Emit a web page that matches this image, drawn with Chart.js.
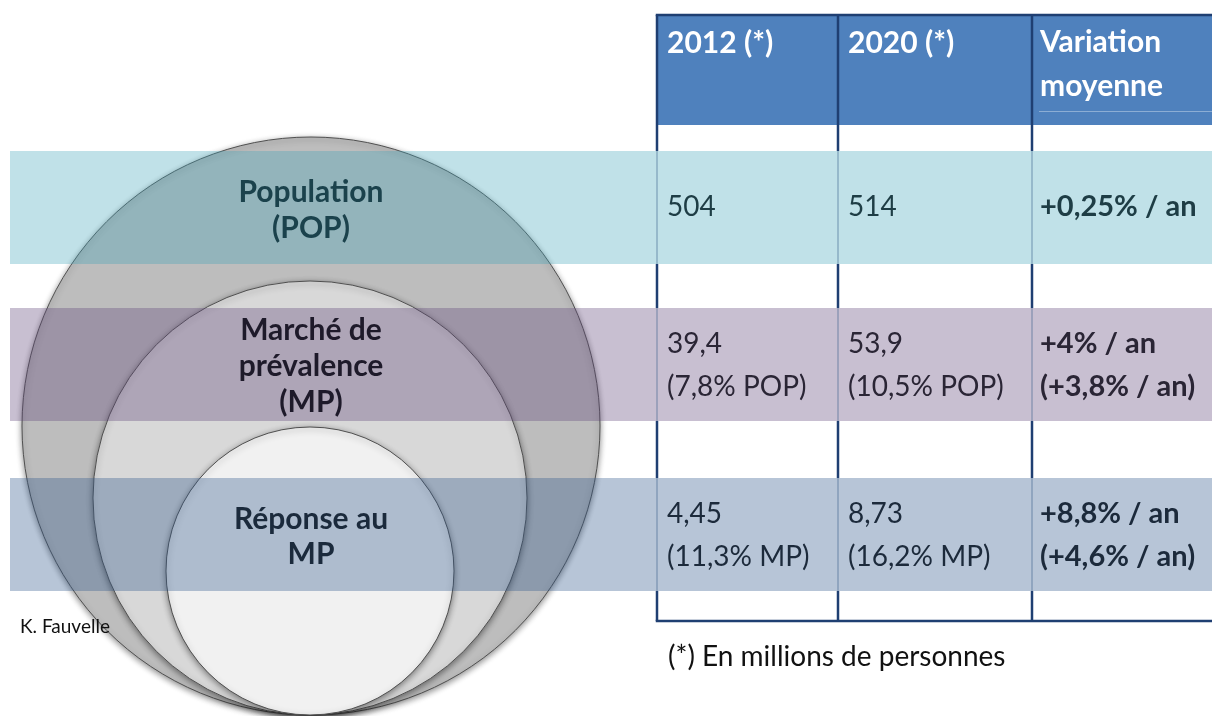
<!DOCTYPE html>
<html>
<head>
<meta charset="utf-8">
<script src="https://cdn.jsdelivr.net/npm/chart.js@4"></script>
<style>
html,body{margin:0;padding:0;background:#fff;}
#wrap{width:1212px;height:716px;position:relative;}
</style>
</head>
<body>
<div id="wrap"><canvas id="c" width="1212" height="716"></canvas></div>
<script>
// ---------------- DATA ----------------
const categories = ['Population (POP)', 'Marché de prévalence (MP)', 'Réponse au MP'];
const categoryLines = [['Population', '(POP)'], ['Marché de', 'prévalence', '(MP)'], ['Réponse au', 'MP']];
const headers = [['2012 (*)'], ['2020 (*)'], ['Variation', 'moyenne']];
const values2012 = [504, 39.4, 4.45];
const values2020 = [514, 53.9, 8.73];
const shareBase = [null, 'POP', 'MP'];
const share2012 = [null, 7.8, 11.3];
const share2020 = [null, 10.5, 16.2];
const variation = [0.25, 4, 8.8];
const variationAlt = [null, 3.8, 4.6];
const footnote = '(*) En millions de personnes';
const credit = 'K. Fauvelle';

// ---------------- LAYOUT / STYLE ----------------
const FONT = 'Lato, "Open Sans", sans-serif';
const layout = {
  circles: [
    { cx: 311, cy: 426, r: 289, fill: '#bdbdbd' },
    { cx: 310, cy: 498, r: 217, fill: '#d8d8d8' },
    { cx: 310, cy: 571, r: 144, fill: '#f1f1f1' }
  ],
  bandLeft: 10, bandRight: 1212, bandTop: [151, 308, 478], bandH: 113,
  bandColors: ['rgba(63,165,186,0.33)', 'rgba(96,73,122,0.35)', 'rgba(49,90,140,0.35)'],
  labelY: [[192, 228], [330, 366, 402], [519, 554]],
  labelColors: ['#1b424c', '#1e1a2a', '#1b2a3c'],
  tableLeft: 657, tableTop: 15, tableBottom: 621, colX: [657, 838, 1032], tableRight: 1212,
  headerBottom: 125, headerColor: '#4f81bd', lineColor: '#1f3f72',
  headerY: [[43], [43], [42, 86]], textPad: [10, 10, 8],
  rowY: [[207], [344, 387], [514, 557]],
  textColors: ['#1e3d45', '#2a2535', '#1c2a3b'],
  footY: 657, creditX: 20, creditY: 627
};

function fr(v) { return String(v).replace('.', ','); }
function cellLines(i) {
  const a = [fr(values2012[i])], b = [fr(values2020[i])], c = ['+' + fr(variation[i]) + '% / an'];
  if (share2012[i] !== null) {
    a.push('(' + fr(share2012[i]) + '% ' + shareBase[i] + ')');
    b.push('(' + fr(share2020[i]) + '% ' + shareBase[i] + ')');
  }
  if (variationAlt[i] !== null) c.push('(+' + fr(variationAlt[i]) + '% / an)');
  return [a, b, c];
}

const shadowPlugin = {
  id: 'shadow',
  beforeDatasetDraw(chart) {
    const ctx = chart.ctx; ctx.save();
    ctx.shadowColor = 'rgba(0,0,0,0.45)'; ctx.shadowBlur = 6; ctx.shadowOffsetY = 2;
  },
  afterDatasetDraw(chart) { chart.ctx.restore(); }
};

const infoPlugin = {
  id: 'info',
  afterDatasetsDraw(chart) {
    const ctx = chart.ctx, X = chart.scales.x, Y = chart.scales.y;
    const px = v => X.getPixelForValue(v), py = v => Y.getPixelForValue(v);
    ctx.save();
    // header
    ctx.fillStyle = layout.headerColor;
    ctx.fillRect(px(layout.tableLeft), py(layout.tableTop), px(layout.tableRight) - px(layout.tableLeft), py(layout.headerBottom) - py(layout.tableTop));
    ctx.strokeStyle = 'rgba(255,255,255,0.35)'; ctx.lineWidth = 1;
    ctx.beginPath(); ctx.moveTo(px(layout.colX[2] + 7), py(111) + 0.5); ctx.lineTo(px(layout.tableRight), py(111) + 0.5); ctx.stroke();
    // bands
    categories.forEach((c, i) => {
      ctx.fillStyle = layout.bandColors[i];
      ctx.fillRect(px(layout.bandLeft), py(layout.bandTop[i]), px(layout.bandRight) - px(layout.bandLeft), py(layout.bandTop[i] + layout.bandH) - py(layout.bandTop[i]));
    });
    // table lines
    const segs = [[layout.tableTop, layout.bandTop[0]]];
    for (let i = 0; i < 3; i++) {
      const end = i < 2 ? layout.bandTop[i + 1] : layout.tableBottom;
      segs.push([layout.bandTop[i] + layout.bandH, end]);
    }
    layout.colX.forEach(x => {
      ctx.strokeStyle = 'rgba(40,80,130,0.55)'; ctx.lineWidth = 1;
      ctx.beginPath(); ctx.moveTo(px(x), py(layout.tableTop)); ctx.lineTo(px(x), py(layout.tableBottom)); ctx.stroke();
      ctx.strokeStyle = layout.lineColor; ctx.lineWidth = 2.5;
      segs.forEach(s => { ctx.beginPath(); ctx.moveTo(px(x), py(s[0])); ctx.lineTo(px(x), py(s[1])); ctx.stroke(); });
    });
    ctx.strokeStyle = layout.lineColor; ctx.lineWidth = 2.5;
    [layout.tableTop, layout.tableBottom].forEach(y => {
      ctx.beginPath(); ctx.moveTo(px(layout.tableLeft) - 1.25, py(y)); ctx.lineTo(px(layout.tableRight), py(y)); ctx.stroke();
    });
    // header text
    ctx.textBaseline = 'middle'; ctx.textAlign = 'left';
    ctx.fillStyle = '#ffffff'; ctx.font = 'bold 30px ' + FONT;
    headers.forEach((h, j) => h.forEach((t, k) => ctx.fillText(t, px(layout.colX[j] + layout.textPad[j]), py(layout.headerY[j][k]))));
    // cell text
    categories.forEach((c, i) => {
      const cols = cellLines(i);
      cols.forEach((lines, j) => {
        ctx.fillStyle = layout.textColors[i];
        ctx.font = j === 2 ? 'bold 29px ' + FONT : '28px ' + FONT;
        lines.forEach((t, k) => ctx.fillText(t, px(layout.colX[j] + layout.textPad[j]), py(layout.rowY[i][k])));
      });
    });
    // circle labels
    ctx.textAlign = 'center'; ctx.font = 'bold 30px ' + FONT;
    categoryLines.forEach((lines, i) => {
      ctx.fillStyle = layout.labelColors[i];
      lines.forEach((t, k) => ctx.fillText(t, px(layout.circles[0].cx), py(layout.labelY[i][k])));
    });
    // footnote and credit
    ctx.textAlign = 'left'; ctx.fillStyle = '#111111';
    ctx.font = '28px ' + FONT; ctx.fillText(footnote, px(layout.colX[0] + 11), py(layout.footY));
    ctx.font = '19px ' + FONT; ctx.fillText(credit, px(layout.creditX), py(layout.creditY));
    ctx.restore();
  }
};

new Chart(document.getElementById('c'), {
  type: 'bubble',
  data: {
    datasets: [{
      label: 'Ensembles',
      data: layout.circles.map(c => ({ x: c.cx, y: c.cy, r: c.r })),
      backgroundColor: layout.circles.map(c => c.fill),
      borderColor: '#505050',
      borderWidth: 1,
      hoverRadius: 0,
      clip: false
    }]
  },
  options: {
    responsive: false,
    animation: false,
    devicePixelRatio: 1,
    events: [],
    layout: { padding: 0, autoPadding: false },
    plugins: { legend: { display: false }, tooltip: { enabled: false } },
    scales: {
      x: { type: 'linear', min: 0, max: 1212, display: false },
      y: { type: 'linear', min: 0, max: 716, reverse: true, display: false }
    }
  },
  plugins: [shadowPlugin, infoPlugin]
});
</script>
</body>
</html>
